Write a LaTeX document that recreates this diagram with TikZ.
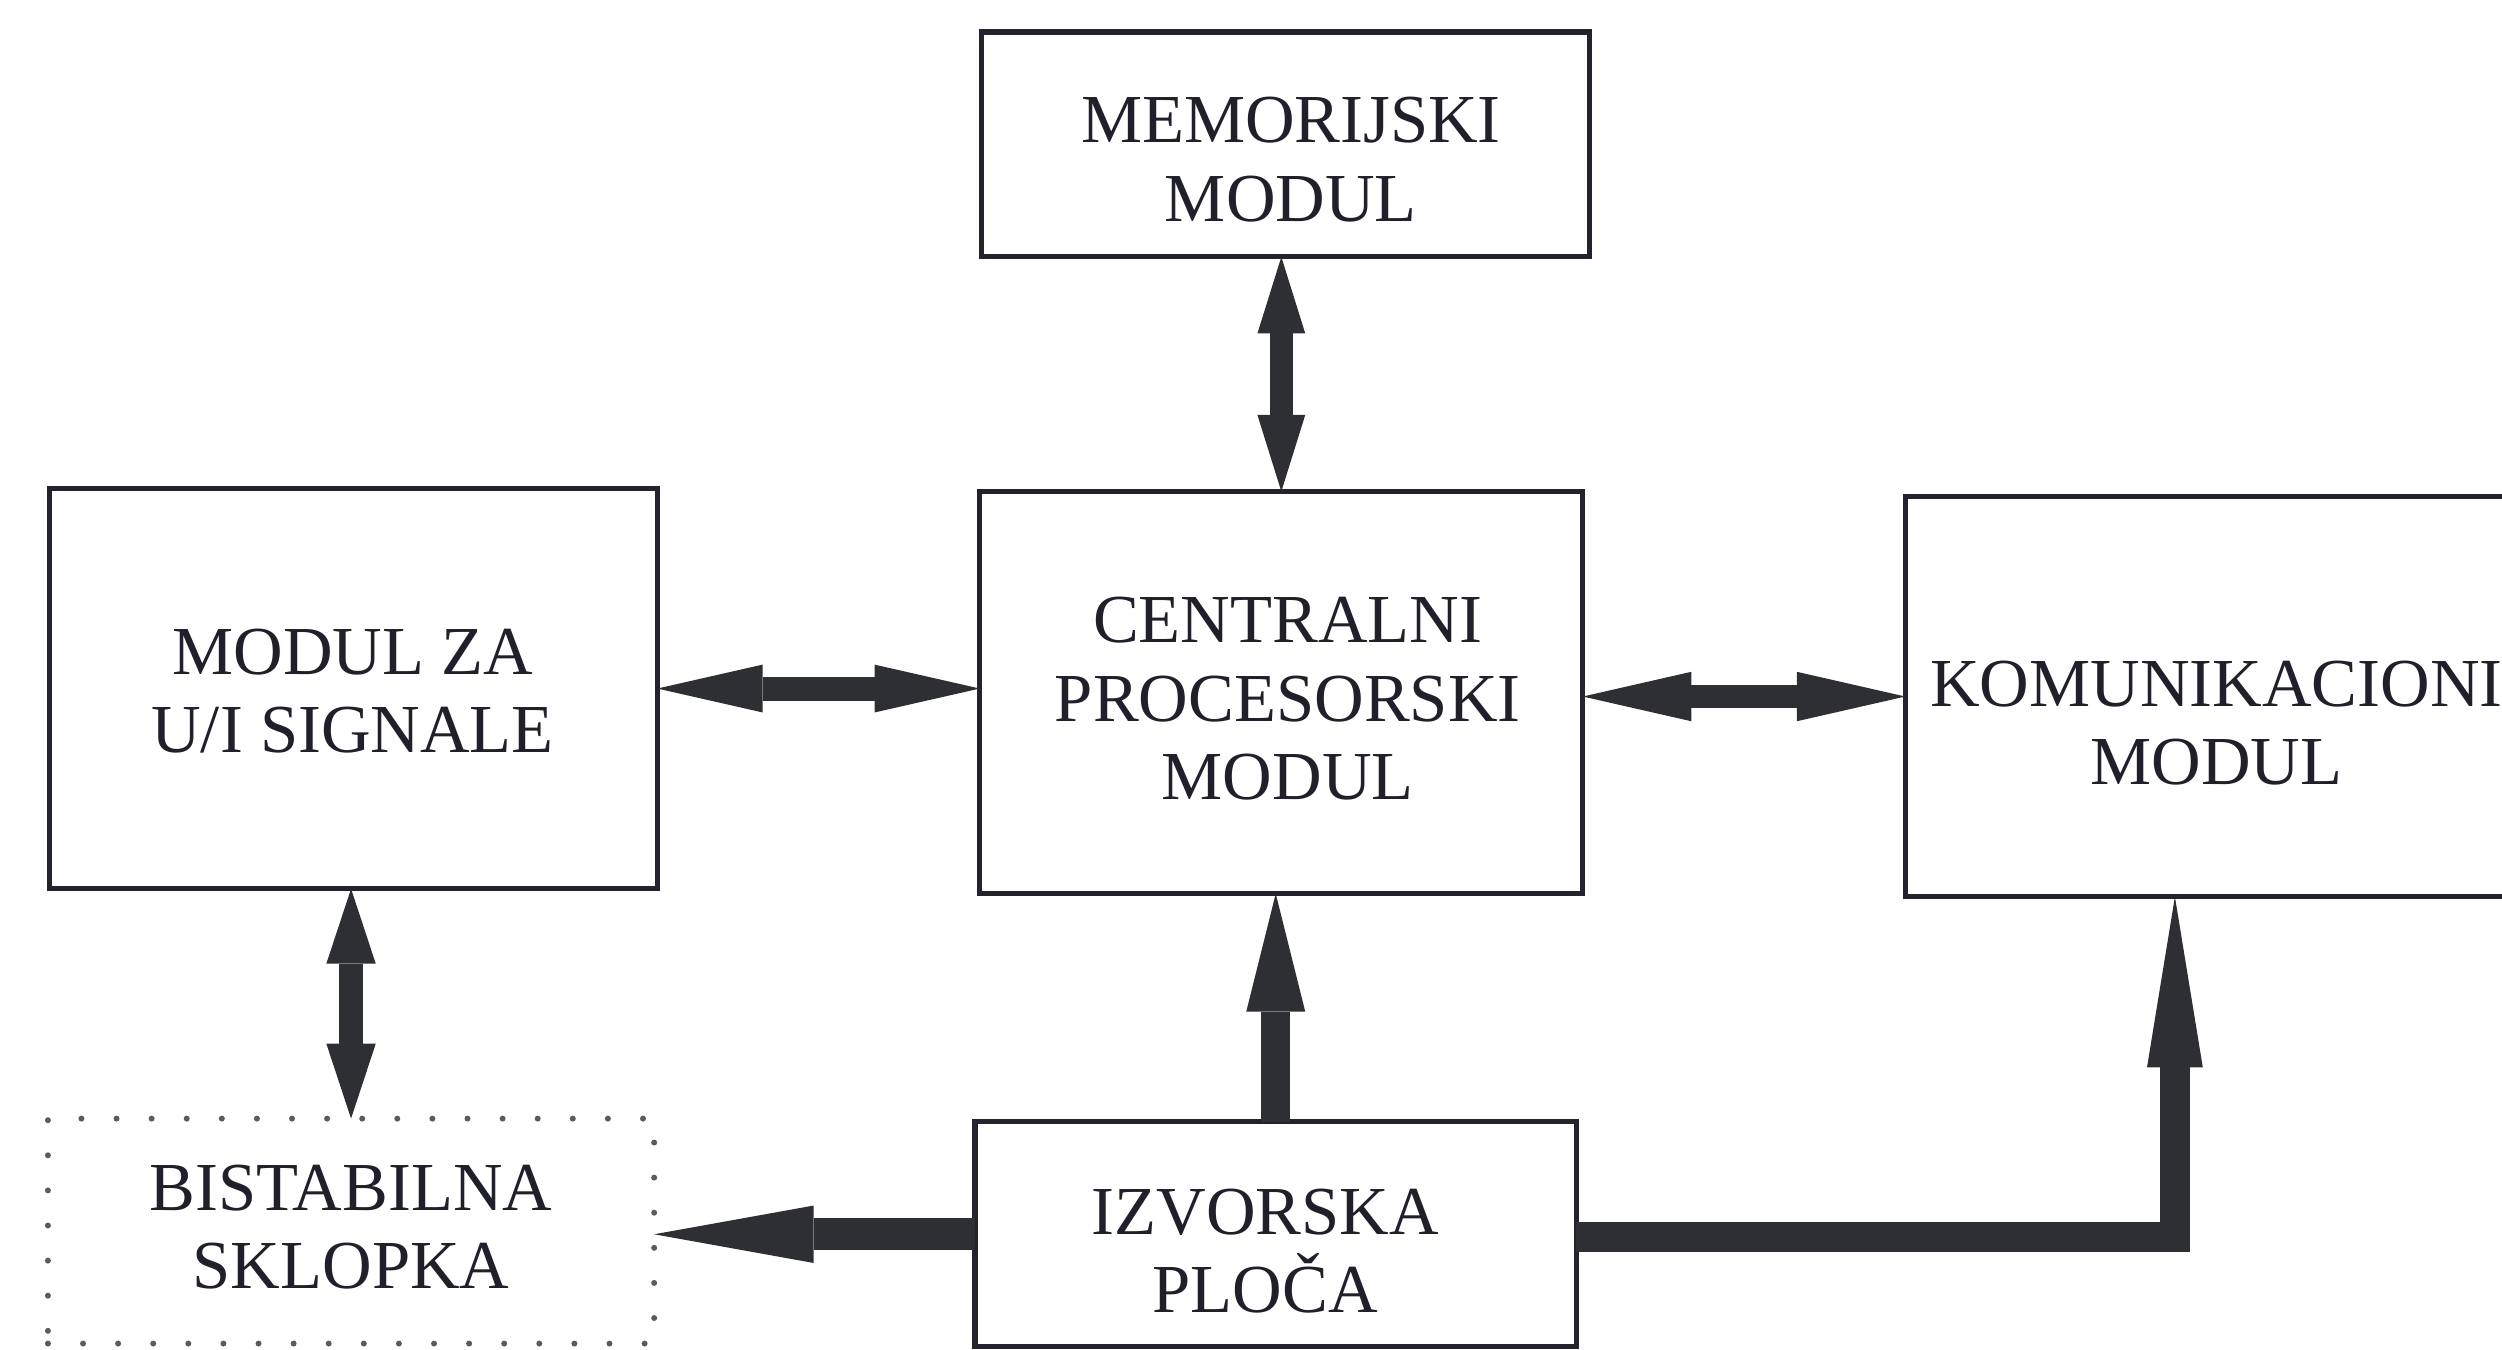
\documentclass[tikz,border=0pt]{standalone}
\usepackage{fontspec}
\setmainfont{Liberation Serif}
\usetikzlibrary{arrows.meta}
\definecolor{boxcol}{HTML}{22232C}
\definecolor{arrcol}{HTML}{2E2F33}
\definecolor{txtcol}{HTML}{1F2029}
\definecolor{dotcol}{HTML}{5A5A62}
\begin{document}
\begin{tikzpicture}[x=0.02cm,y=-0.02cm,
  box/.style={draw=boxcol, line width=0.065cm, rectangle, inner sep=0pt, outer sep=0pt},
  dotbox/.style={draw=dotcol, line width=0.075cm, dash pattern=on 0pt off 0.44cm, line cap=round, rectangle, inner sep=0pt, outer sep=0pt},
  lbl/.style={font=\fontsize{24.5}{28}\selectfont, align=center, text=txtcol, inner sep=0pt},
  dbl/.style n args={3}{draw=arrcol, line width=#3,
    {Triangle[length=#1,width=#2,line width=0pt]}-{Triangle[length=#1,width=#2,line width=0pt]}},
  sgl/.style n args={3}{draw=arrcol, line width=#3, line join=miter,
    -{Triangle[length=#1,width=#2,line width=0pt]}}
]
\useasboundingbox (0,0) rectangle (1568,846);
\clip (0,0) rectangle (1568,846);

% boxes
\node[box, minimum width=7.62cm, minimum height=2.82cm] (mem) at (805.5,90.5) {};
\node[box, minimum width=7.56cm, minimum height=5.04cm] (cpu) at (803,434) {};
\node[box, minimum width=7.62cm, minimum height=5.02cm] (io) at (221.5,431.5) {};
\node[box, minimum width=7.96cm, minimum height=5.02cm] (kom) at (1393,436.5) {};
\node[dotbox, minimum width=7.60cm, minimum height=2.82cm] (bist) at (220,771.5) {};
\node[box, minimum width=7.54cm, minimum height=2.82cm] (izv) at (799.5,773.5) {};

% labels
\node[lbl] (memT) at (809,100) {MEMORIJSKI\\MODUL};
\node[lbl] (cpuT) at (807,438) {CENTRALNI\\PROCESORSKI\\MODUL};
\node[lbl] (ioT) at (221,433) {MODUL ZA\\U/I SIGNALE};
\node[lbl] (komT) at (1389,453) {KOMUNIKACIONI\\MODUL};
\node[lbl] (bistT) at (220,769) {BISTABILNA\\SKLOPKA};
\node[lbl] (izvT) at (793,784) {IZVORSKA\\PLOČA};

% connectors
\draw[dbl={0.96cm}{0.6cm}{0.28cm}] (cpu.north) -- (cpu.north |- mem.south);
\draw[dbl={1.32cm}{0.6cm}{0.30cm}] (io.east) -- (io.east -| cpu.west);
\draw[dbl={1.36cm}{0.62cm}{0.28cm}] (cpu.east |- kom.west) -- (kom.west);
\draw[dbl={0.94cm}{0.62cm}{0.30cm}] (io.south -| bist.north) -- (bist.north);
\draw[sgl={1.48cm}{0.74cm}{0.36cm}] (izv.north) -- (izv.north |- cpu.south);
\draw[sgl={2.0cm}{0.72cm}{0.40cm}] (izv.west) -- (izv.west -| bist.east);
\coordinate (kx) at (1363,775);
\draw[sgl={2.14cm}{0.70cm}{0.38cm}] (izv.east |- kx) -- (kx) -- (kx |- kom.south);
\end{tikzpicture}
\end{document}
